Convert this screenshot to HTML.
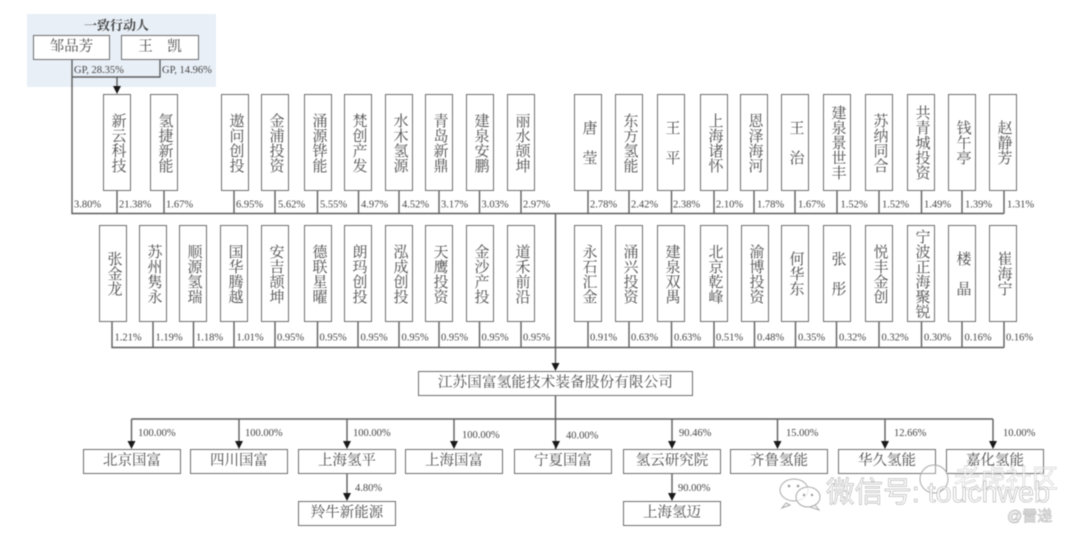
<!DOCTYPE html>
<html lang="zh-CN">
<head>
<meta charset="utf-8">
<title>江苏国富氢能股权结构图</title>
<style>
html,body{margin:0;padding:0;background:#fff}
#p{position:relative;width:1080px;height:540px;overflow:hidden;background:#fff;font-family:"Liberation Serif","Noto Serif CJK SC",serif;color:#4d4d4d;filter:blur(.5px)}
#p svg{position:absolute;left:0;top:0}
.b{position:absolute;box-sizing:border-box;border:1.5px solid #6e6e6e;background:#fff;display:flex;align-items:center;justify-content:center;font-size:14.5px;line-height:15px;white-space:nowrap}
.v{width:28px;height:97px;writing-mode:vertical-rl;text-orientation:upright;font-size:15px}
.h{height:25px;width:98px}
.t{top:94px}.u{top:225px}.s{top:449px}.r{top:501px}
.g{position:absolute;left:27px;top:14px;width:189px;height:73px;background:#e8eff7}
text{font-family:"Liberation Serif","Noto Serif CJK SC",serif}
.l text{font-size:10.5px;fill:#444}
</style>
</head>
<body>
<div id="p">
<div class="g"></div>
<svg width="1080" height="540" viewBox="0 0 1080 540">
<g fill="none" stroke="#5e5e5e" stroke-width="1.4">
<path d="M72 60V213.5H1004M160 60V77H72M117 77V87"/>
<path d="M117 191V213.5M164 191V213.5M234 191V213.5M275 191V213.5M317.500 191V213.5M358.500 191V213.5M399 191V213.5M439 191V213.5M479.500 191V213.5M521 191V213.5M588 191V213.5M629 191V213.5M671.500 191V213.5M714 191V213.5M754 191V213.5M795 191V213.5M837 191V213.5M879 191V213.5M921.500 191V213.5M962 191V213.5M1004 191V213.5"/>
<path d="M112 322V347.500H1004M153 322V347.500M193.500 322V347.500M234 322V347.500M275 322V347.500M317.500 322V347.500M358 322V347.500M399 322V347.500M439 322V347.500M479.500 322V347.500M521 322V347.500M588 322V347.500M629 322V347.500M671.500 322V347.500M714 322V347.500M754.500 322V347.500M795.500 322V347.500M836.500 322V347.500M879 322V347.500M921.500 322V347.500M962 322V347.500M1004 322V347.500"/>
<path d="M555.500 213.500V364M555.500 396V449M131.500 419H993"/>
<path d="M131.500 419V442M239 419V442M347 419V442M454 419V442M672 419V442M777.500 419V442M885 419V442M993 419V442M347 474V494M672 474V494"/>
</g>
<g fill="#1a1a1a">
<polygon points="113,86 121,86 117,94"/>
<polygon points="551.500,363 559.500,363 555.500,371"/>
<polygon points="127.500,441 135.500,441 131.500,449"/>
<polygon points="235,441 243,441 239,449"/>
<polygon points="343,441 351,441 347,449"/>
<polygon points="450,441 458,441 454,449"/>
<polygon points="552,441 560,441 556,449"/>
<polygon points="668,441 676,441 672,449"/>
<polygon points="773.500,441 781.500,441 777.500,449"/>
<polygon points="881,441 889,441 885,449"/>
<polygon points="989,441 997,441 993,449"/>
<polygon points="343,493 351,493 347,501"/>
<polygon points="668,493 676,493 672,501"/>
</g>
<g class="l">
<text x="74" y="73">GP, 28.35%</text><text x="162" y="73">GP, 14.96%</text>
<text x="74" y="207.500">3.80%</text><text x="119" y="207.500">21.38%</text><text x="166" y="207.500">1.67%</text><text x="236" y="207.500">6.95%</text><text x="278" y="207.500">5.62%</text><text x="320" y="207.500">5.55%</text><text x="361" y="207.500">4.97%</text><text x="402" y="207.500">4.52%</text><text x="441" y="207.500">3.17%</text><text x="481.500" y="207.500">3.03%</text><text x="523" y="207.500">2.97%</text><text x="590" y="207.500">2.78%</text><text x="631" y="207.500">2.42%</text><text x="673" y="207.500">2.38%</text><text x="716" y="207.500">2.10%</text><text x="757" y="207.500">1.78%</text><text x="798" y="207.500">1.67%</text><text x="840.500" y="207.500">1.52%</text><text x="882" y="207.500">1.52%</text><text x="924" y="207.500">1.49%</text><text x="965" y="207.500">1.39%</text><text x="1007" y="207.500">1.31%</text>
<text x="114.500" y="340.500">1.21%</text><text x="155.500" y="340.500">1.19%</text><text x="196" y="340.500">1.18%</text><text x="236.500" y="340.500">1.01%</text><text x="277" y="340.500">0.95%</text><text x="319.500" y="340.500">0.95%</text><text x="360.500" y="340.500">0.95%</text><text x="401.500" y="340.500">0.95%</text><text x="441" y="340.500">0.95%</text><text x="481.500" y="340.500">0.95%</text><text x="523" y="340.500">0.95%</text><text x="590" y="340.500">0.91%</text><text x="631" y="340.500">0.63%</text><text x="674" y="340.500">0.63%</text><text x="716" y="340.500">0.51%</text><text x="757" y="340.500">0.48%</text><text x="798" y="340.500">0.35%</text><text x="839" y="340.500">0.32%</text><text x="881.500" y="340.500">0.32%</text><text x="924" y="340.500">0.30%</text><text x="964.500" y="340.500">0.16%</text><text x="1006" y="340.500">0.16%</text>
<text x="138" y="436">100.00%</text><text x="245" y="436">100.00%</text><text x="353" y="436">100.00%</text><text x="462" y="438">100.00%</text><text x="566" y="438.500">40.00%</text><text x="679" y="436">90.46%</text><text x="786" y="436">15.00%</text><text x="894" y="436">12.66%</text><text x="1003" y="436">10.00%</text><text x="355" y="491">4.80%</text><text x="678" y="491">90.00%</text>
</g>
<text x="84" y="30" font-size="13" font-weight="700" fill="#444">一致行动人</text>
</svg>

<div class="b h" style="left:33px;top:35px;width:77px">邹品芳</div>
<div class="b h" style="left:121px;top:35px;width:78px">王　凯</div>

<div class="b v t" style="left:103px">新云科技</div>
<div class="b v t" style="left:150px">氢捷新能</div>
<div class="b v t" style="left:221px">遨问创投</div>
<div class="b v t" style="left:261px">金浦投资</div>
<div class="b v t" style="left:304px">涌源铧能</div>
<div class="b v t" style="left:344px">梵创产发</div>
<div class="b v t" style="left:385px">水木氢源</div>
<div class="b v t" style="left:425px">青岛新鼎</div>
<div class="b v t" style="left:466px">建泉安鹏</div>
<div class="b v t" style="left:507px">丽水颉坤</div>
<div class="b v t" style="left:574px">唐　莹</div>
<div class="b v t" style="left:615px">东方氢能</div>
<div class="b v t" style="left:657px">王　平</div>
<div class="b v t" style="left:700px">上海诸怀</div>
<div class="b v t" style="left:740px">恩泽海河</div>
<div class="b v t" style="left:781px">王　治</div>
<div class="b v t" style="left:823px">建泉景世丰</div>
<div class="b v t" style="left:865px">苏纳同合</div>
<div class="b v t" style="left:907px">共青城投资</div>
<div class="b v t" style="left:948px">钱午亭</div>
<div class="b v t" style="left:989px">赵静芳</div>

<div class="b v u" style="left:99px">张金龙</div>
<div class="b v u" style="left:139px">苏州隽永</div>
<div class="b v u" style="left:179px">顺源氢瑞</div>
<div class="b v u" style="left:220px">国华腾越</div>
<div class="b v u" style="left:261px">安吉颉坤</div>
<div class="b v u" style="left:304px">德联星曜</div>
<div class="b v u" style="left:344px">朗玛创投</div>
<div class="b v u" style="left:385px">泓成创投</div>
<div class="b v u" style="left:425px">天鹰投资</div>
<div class="b v u" style="left:466px">金沙产投</div>
<div class="b v u" style="left:507px">道禾前沿</div>
<div class="b v u" style="left:574px">永石汇金</div>
<div class="b v u" style="left:615px">涌兴投资</div>
<div class="b v u" style="left:657px">建泉双禺</div>
<div class="b v u" style="left:700px">北京乾峰</div>
<div class="b v u" style="left:741px">渝博投资</div>
<div class="b v u" style="left:781px">何华东</div>
<div class="b v u" style="left:823px">张　彤</div>
<div class="b v u" style="left:865px">悦丰金创</div>
<div class="b v u" style="left:907px">宁波正海聚锐</div>
<div class="b v u" style="left:948px">楼　晶</div>
<div class="b v u" style="left:989px">崔海宁</div>

<div class="b" style="left:418px;top:371px;width:275px;height:25px;letter-spacing:.2px">江苏国富氢能技术装备股份有限公司</div>

<div class="b h s" style="left:83px">北京国富</div>
<div class="b h s" style="left:190px">四川国富</div>
<div class="b h s" style="left:298px">上海氢平</div>
<div class="b h s" style="left:405px">上海国富</div>
<div class="b h s" style="left:514px">宁夏国富</div>
<div class="b h s" style="left:623px">氢云研究院</div>
<div class="b h s" style="left:730px">齐鲁氢能</div>
<div class="b h s" style="left:838px">华久氢能</div>
<div class="b h s" style="left:946px">嘉化氢能</div>
<div class="b h r" style="left:298px">羚牛新能源</div>
<div class="b h r" style="left:623px">上海氢迈</div>

<svg width="1080" height="540" viewBox="0 0 1080 540">
<g fill="#fff" fill-opacity=".75" stroke="#aaa" stroke-width="1">
<circle cx="934" cy="479" r="14" fill-opacity=".3"/>
<ellipse cx="794" cy="490" rx="14" ry="11"/>
<path d="M786 503l-4 5 8-3z"/>
<ellipse cx="808" cy="497" rx="12" ry="10"/>
<path d="M815 505l4 5-9-3z"/>
</g>
<g fill="#999">
<circle cx="789" cy="486" r="1.300"/><circle cx="798" cy="486" r="1.300"/><circle cx="804" cy="495" r="1.200"/><circle cx="812" cy="495" r="1.200"/>
</g>
<text x="954" y="488" font-size="26" style="font-family:'Liberation Sans','Noto Sans CJK SC',sans-serif" fill="#fff" fill-opacity=".55" stroke="#c4c4c4" stroke-width=".5">老虎社区</text>
<text x="826" y="502" font-size="29" style="font-family:'Liberation Sans','Noto Sans CJK SC',sans-serif" fill="#fff" fill-opacity=".9" stroke="#a0a0a0" stroke-width=".5" textLength="224" lengthAdjust="spacingAndGlyphs">微信号: touchweb</text>
<text x="1007" y="521" font-size="15" style="font-family:'Liberation Sans','Noto Sans CJK SC',sans-serif" fill="#fff" stroke="#aaa" stroke-width=".5">@雷递</text>
</svg>
</div>
</body>
</html>
